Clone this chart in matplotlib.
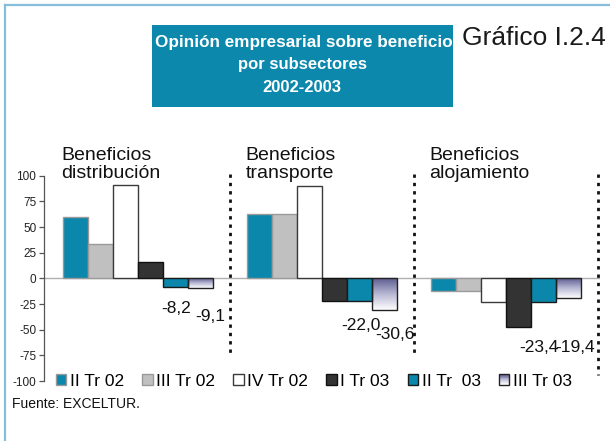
import numpy as np
import matplotlib
matplotlib.use("Agg")
import matplotlib.pyplot as plt
from matplotlib.patches import Rectangle, Patch
from matplotlib.lines import Line2D
from matplotlib.colors import LinearSegmentedColormap
from matplotlib.legend_handler import HandlerBase

plt.rcParams["font.family"] = ["Liberation Sans", "DejaVu Sans"]

# ── data ─────────────────────────────────────────────────────────────────────
groups = ["Beneficios\ndistribución", "Beneficios\ntransporte", "Beneficios\nalojamiento"]
series = ["II Tr 02", "III Tr 02", "IV Tr 02", "I Tr 03", "II Tr  03", "III Tr 03"]
distribucion = [59.5, 33.4, 91.0, 15.8, -8.2, -9.1]
transporte = [63.0, 63.0, 90.0, -22.3, -22.0, -30.6]
alojamiento = [-12.4, -12.4, -22.8, -47.8, -23.4, -19.4]
values = [distribucion, transporte, alojamiento]
yticks = [100, 75, 50, 25, 0, -25, -50, -75, -100]

# labelled bars: (group, series index, text)
labels = [(0, 4, "-8,2"), (0, 5, "-9,1"),
          (1, 4, "-22,0"), (1, 5, "-30,6"),
          (2, 4, "-23,4"), (2, 5, "-19,4")]
# label offsets in pixels (dx, dy)
label_off = [(1, -22), (10, -29), (2, -25), (11, -25), (-4, -45), (7, -49)]

# ── style ────────────────────────────────────────────────────────────────────
TEAL = "#0A87AA"
faces = [TEAL, "#C0C0C0", "#FFFFFF", "#333333", TEAL, None]
edges = ["#9A9A9A", "#9A9A9A", "#3A3A3A", "#111111", "#1A1A1A", "#222222"]
grad = LinearSegmentedColormap.from_list("grad", ["#5C5C90", "#B8B8D4", "#FFFFFF"])

GROUP_STEP = 7.36   # in bar widths
BAR_W = 1.0

fig = plt.figure(figsize=(6.10, 4.41), dpi=100)
fig.patch.set_facecolor("white")

# light blue frame on left / top
fig.add_artist(Line2D([5 / 610, 5 / 610], [0, 1 - 5 / 441], color="#86BDDA", lw=1.6))
fig.add_artist(Line2D([5 / 610, 1], [1 - 5 / 441, 1 - 5 / 441], color="#86BDDA", lw=1.6))

# title box
fig.add_artist(Rectangle((152 / 610, 1 - 107 / 441), 301 / 610, 82 / 441,
                         transform=fig.transFigure, facecolor="#0B88AC",
                         edgecolor="none"))
fig.text(155 / 610, 1 - 42 / 441, "Opinión empresarial sobre beneficios",
         color="white", fontsize=12.3, fontweight="bold", ha="left", va="center")
fig.text(302 / 610, 1 - 64 / 441, "por subsectores",
         color="white", fontsize=12, fontweight="bold", ha="center", va="center")
fig.text(302 / 610, 1 - 88 / 441, "2002-2003",
         color="white", fontsize=12, fontweight="bold", ha="center", va="center")
fig.text(606 / 610, 1 - 38 / 441, "Gráfico I.2.4", color="#1A1A1A",
         fontsize=19, ha="right", va="center")

# ── main axes ────────────────────────────────────────────────────────────────
ax = fig.add_axes([44 / 610, 60 / 441, 556 / 610, 205.3 / 441])

for g, vals in enumerate(values):
    xs = g * GROUP_STEP + np.arange(len(vals)) * BAR_W
    for i, (x, v) in enumerate(zip(xs, vals)):
        if faces[i] is None:
            ax.imshow(np.linspace(0, 1, 256).reshape(-1, 1), cmap=grad,
                      extent=[x - BAR_W / 2, x + BAR_W / 2, min(v, 0), max(v, 0)],
                      aspect="auto", zorder=2, origin="upper")
            ax.bar(x, v, width=BAR_W, facecolor="none", edgecolor=edges[i],
                   linewidth=1.0, zorder=3)
        else:
            ax.bar(x, v, width=BAR_W, facecolor=faces[i], edgecolor=edges[i],
                   linewidth=1.0, zorder=3)
    ax.text(g * GROUP_STEP - 0.55, 97.5, groups[g], fontsize=14,
            ha="left", va="baseline", linespacing=1.1, color="#111111")
    # dotted separator
    sep = g * GROUP_STEP + 5.5 + (GROUP_STEP - 6) / 2
    ax.plot([sep, sep], [102, -94 if g == 2 else -73], color="#111111",
            lw=2.0, linestyle=(0, (1.2, 1.8)), zorder=4, clip_on=False)

for (g, i, txt), (dx, dy) in zip(labels, label_off):
    x = g * GROUP_STEP + i * BAR_W
    ax.annotate(txt, (x, values[g][i]), xytext=(dx, dy),
                textcoords="offset pixels", ha="center", va="center",
                fontsize=12.5, color="#111111", zorder=5)

ax.axhline(0, color="#AFAFAF", lw=1.0, zorder=1)
ax.set_xlim(-1.25, 21.0)
ax.set_ylim(-100, 100)
ax.set_yticks(yticks)
ax.set_yticklabels([str(t) for t in yticks])
ax.set_xticks([])
for s in ["top", "right", "bottom"]:
    ax.spines[s].set_visible(False)
ax.spines["left"].set_color("#555555")
ax.spines["left"].set_linewidth(0.9)
ax.tick_params(axis="y", length=3.5, width=0.9, color="#555555",
               labelsize=8.5, labelcolor="#222222", pad=2)
ax.patch.set_alpha(0)


# ── legend ───────────────────────────────────────────────────────────────────
class GradHandler(HandlerBase):
    def create_artists(self, legend, orig_handle, xdescent, ydescent,
                       width, height, fontsize, trans):
        n = 12
        arts = []
        for k in range(n):
            arts.append(Rectangle((-xdescent, -ydescent + height * (1 - (k + 1) / n)),
                                  width, height / n, facecolor=grad(k / (n - 1)),
                                  edgecolor="none", transform=trans))
        arts.append(Rectangle((-xdescent, -ydescent), width, height,
                              facecolor="none", edgecolor=edges[5], lw=1.0,
                              transform=trans))
        return arts


handles = []
for i in range(6):
    if faces[i] is None:
        handles.append(Patch(facecolor="white", edgecolor=edges[i]))
    else:
        handles.append(Patch(facecolor=faces[i], edgecolor=edges[i], lw=1.0))

fig.legend(handles, series, loc="center left",
           bbox_to_anchor=(56 / 610, 1 - 381 / 441), ncol=6, frameon=False,
           fontsize=12.5, handlelength=0.6, handleheight=0.6, handletextpad=0.2,
           columnspacing=1.05, borderpad=0, borderaxespad=0,
           handler_map={handles[5]: GradHandler()})

fig.text(12 / 610, 1 - 404 / 441, "Fuente: EXCELTUR.", fontsize=10,
         ha="left", va="center", color="#111111")

fig.savefig("out.png", dpi=100, facecolor="white")
